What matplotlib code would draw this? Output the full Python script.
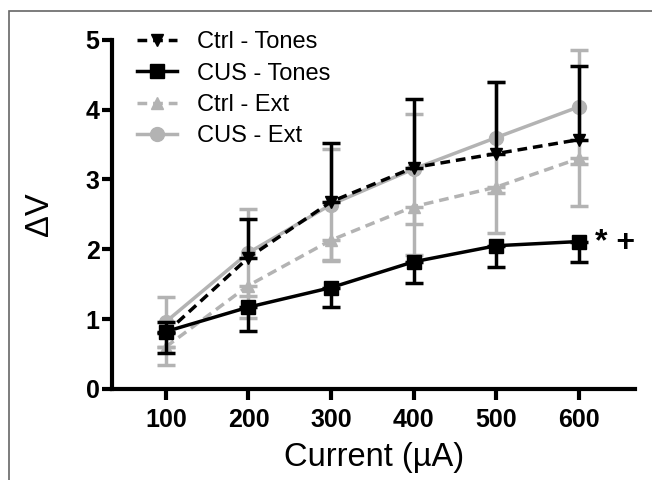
import matplotlib
matplotlib.use("Agg")
import matplotlib.pyplot as plt
from matplotlib.patches import Rectangle

plt.rcParams['font.family'] = ['Liberation Sans', 'DejaVu Sans']

current = [100, 200, 300, 400, 500, 600]
xticks = [100, 200, 300, 400, 500, 600]
yticks = [0, 1, 2, 3, 4, 5]

ctrl_tones = [0.80, 1.88, 2.68, 3.17, 3.37, 3.57]
ctrl_tones_err = [0.16, 0.55, 0.84, 0.98, 1.03, 1.05]      # upward only
cus_tones = [0.82, 1.17, 1.45, 1.82, 2.05, 2.11]
cus_tones_err = [0.30, 0.34, 0.28, 0.30, 0.30, 0.30]       # downward only
ctrl_ext = [0.60, 1.48, 2.13, 2.61, 2.89, 3.30]
ctrl_ext_err = [0.26, 0.46, 0.30, 0.69, 0.66, 0.68]        # downward only
cus_ext = [0.96, 1.95, 2.64, 3.15, 3.60, 4.04]
cus_ext_err = [0.36, 0.62, 0.80, 0.79, 0.80, 0.82]         # both directions

labels = ['Ctrl - Tones', 'CUS - Tones', 'Ctrl - Ext', 'CUS - Ext']
annot = '* +'

gray = '#b3b3b3'
black = '#000000'
dash = (0, (2.8, 1.7))

fig = plt.figure(figsize=(6.52, 4.80), dpi=100)
ax = fig.add_axes([0.172, 0.19, 0.802, 0.727])

zeros = [0] * len(current)
eb = dict(capsize=6.5, capthick=2.5, elinewidth=2.5, lw=2.5)

h4 = ax.errorbar(current, cus_ext, yerr=[cus_ext_err, cus_ext_err], color=gray,
                 marker='o', ls='-', markersize=10, zorder=2, **eb)
h3 = ax.errorbar(current, ctrl_ext, yerr=[ctrl_ext_err, zeros], color=gray,
                 marker='^', ls=dash, markersize=9, zorder=2, **eb)
h2 = ax.errorbar(current, cus_tones, yerr=[cus_tones_err, zeros], color=black,
                 marker='s', ls='-', markersize=10, zorder=3, **eb)
h1 = ax.errorbar(current, ctrl_tones, yerr=[zeros, ctrl_tones_err], color=black,
                 marker='v', ls=dash, markersize=9, zorder=3, **eb)

ax.text(current[-1] + 20, cus_tones[-1] - 0.02, annot, fontsize=23, fontweight='bold',
        ha='left', va='center')

ax.set_xlim(35, 668)
ax.set_ylim(0, 5)
ax.set_xticks(xticks)
ax.set_yticks(yticks)
ax.set_xticklabels([str(v) for v in xticks], fontsize=18, fontweight='bold')
ax.set_yticklabels([str(v) for v in yticks], fontsize=18, fontweight='bold')
ax.tick_params(axis='x', length=8, width=3, pad=6)
ax.tick_params(axis='y', length=7, width=3, pad=2)
for s in ['top', 'right']:
    ax.spines[s].set_visible(False)
for s in ['left', 'bottom']:
    ax.spines[s].set_linewidth(3)

ax.set_xlabel('Current (µA)', fontsize=23.5, labelpad=7)
ax.set_ylabel('ΔV', fontsize=23.5)
ax.yaxis.set_label_coords(-0.109, 0.5)

leg = ax.legend([h1[0], h2[0], h3[0], h4[0]], labels, loc='upper left',
                bbox_to_anchor=(0.030, 1.052), frameon=False, fontsize=17,
                handlelength=1.7, handletextpad=0.85, labelspacing=0.4,
                borderaxespad=0)

fig.patches.append(Rectangle((9 / 652, -0.02), 1.0, 1.02 - 11 / 480,
                             transform=fig.transFigure,
                             fill=False, edgecolor='#666666', lw=1.2))

fig.savefig('out.png', dpi=100)
